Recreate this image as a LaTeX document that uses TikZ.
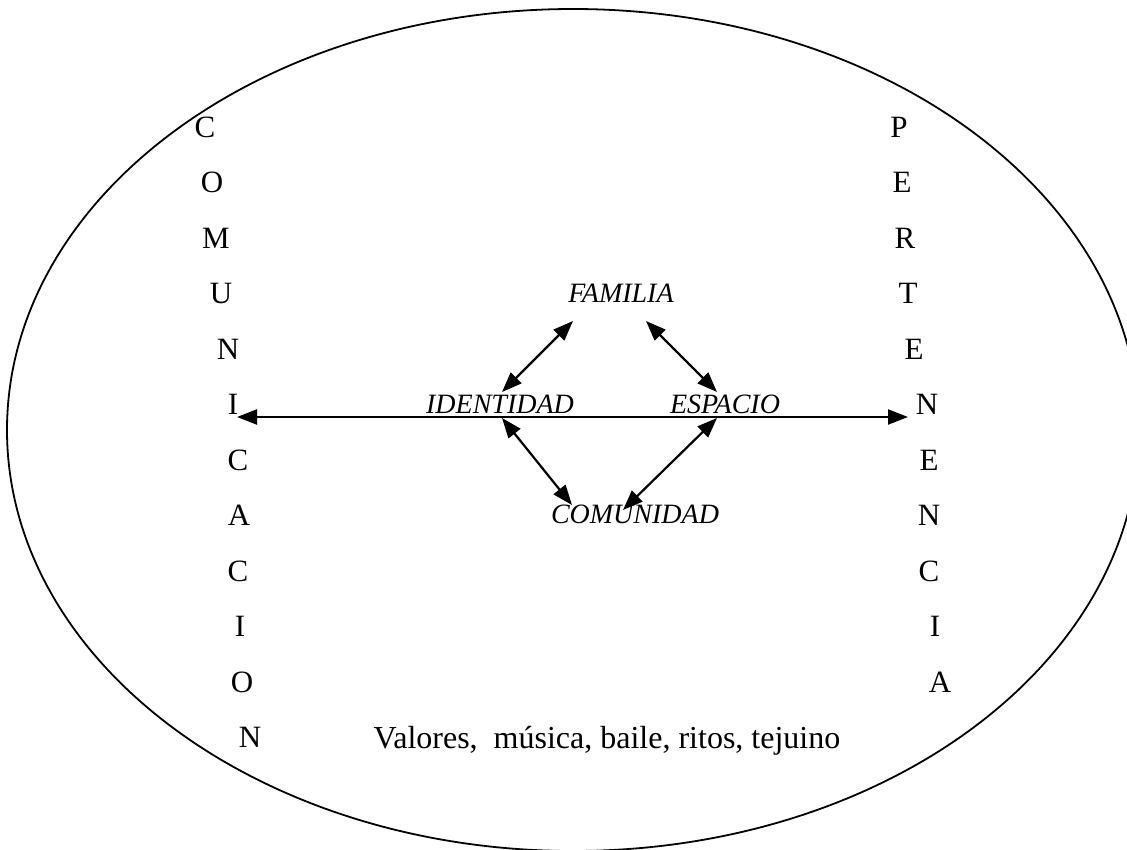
\documentclass[tikz,border=0pt]{standalone}
\usepackage{fontspec}
\setmainfont{Liberation Serif}
\usetikzlibrary{arrows.meta}
\begin{document}
\begin{tikzpicture}[x=1pt,y=-1pt,
  letter/.style={font=\fontsize{31}{36}\selectfont, inner sep=0pt},
  lab/.style={font=\fontsize{28}{32}\selectfont\itshape, inner sep=0pt},
  body/.style={font=\fontsize{32}{38}\selectfont, inner sep=0pt},
  dbl/.style={{Triangle[length=20pt,width=15pt]}-{Triangle[length=20pt,width=15pt]}, line width=2.2pt}]
\useasboundingbox (0,0) rectangle (1127,849);
\clip (0,0) rectangle (1127,849);
\fill[white] (0,0) rectangle (1127,849);
\draw[line width=1.8pt] (573,430) ellipse [x radius=566, y radius=421];
% left column
\foreach \t/\x [count=\i] in {C/205,O/212,M/216,U/221,N/228,I/233,C/238,A/239,C/238,I/240,O/242,N/250}
  \node[letter] (l\i) at (\x,{127+(\i-1)*55.5}) {\t};
% right column
\foreach \t/\x [count=\i] in {P/899,E/902,R/905,T/908,E/914,N/927,E/929,N/929,C/929,I/935,A/940}
  \node[letter] (r\i) at (\x,{127+(\i-1)*55.5}) {\t};
% labels
\node[lab] (fam) at (621,293) {FAMILIA};
\node[lab] (ide) at (500,404) {IDENTIDAD};
\node[lab] (esp) at (725,404) {ESPACIO};
\node[lab] (com) at (635,514) {COMUNIDAD};
\node[body, anchor=base] (val) at (607,748) {Valores,\ \ música, baile, ritos, tejuino};
% connector ends
\coordinate (hl) at (237,417);
\coordinate (hr) at (908,417);
\coordinate (famL) at (573,321);
\coordinate (famR) at (646,321);
\coordinate (ideT) at (502,392);
\coordinate (ideB) at (502,418);
\coordinate (espT) at (717,392);
\coordinate (espB) at (717,418);
\coordinate (comL) at (572,505);
\coordinate (comR) at (623,510);
\draw[dbl] (hl) -- (hr);
\draw[dbl] (famL) -- (ideT);
\draw[dbl] (famR) -- (espT);
\draw[dbl] (ideB) -- (comL);
\draw[dbl] (espB) -- (comR);
\end{tikzpicture}
\end{document}
